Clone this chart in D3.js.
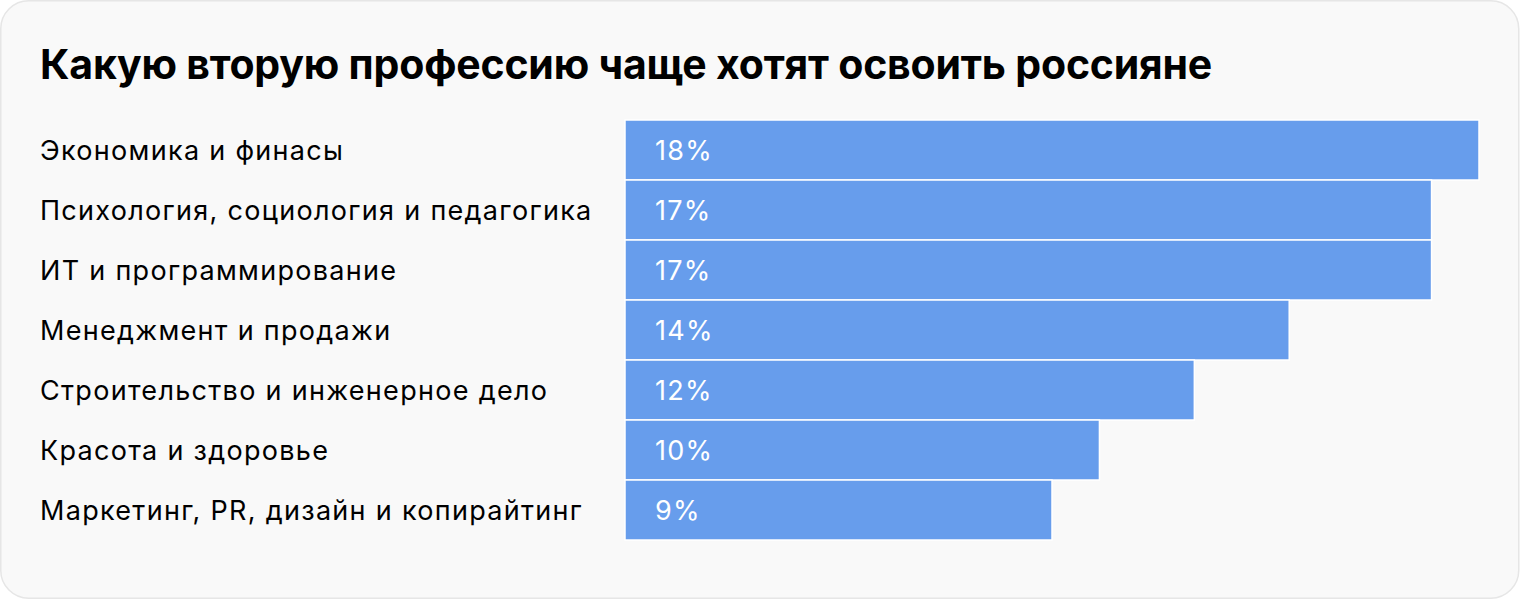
<!DOCTYPE html>
<html><head><meta charset="utf-8">
<script src="https://cdn.jsdelivr.net/npm/d3@7"></script>
<style>
html,body{margin:0;padding:0;background:#fff;}
svg{display:block;}
</style></head>
<body>
<svg id="chart" width="1520" height="600"></svg>
<script>
const title = "Какую вторую профессию чаще хотят освоить россияне";
const categories = [
  "Экономика и финасы",
  "Психология, социология и педагогика",
  "ИТ и программирование",
  "Менеджмент и продажи",
  "Строительство и инженерное дело",
  "Красота и здоровье",
  "Маркетинг, PR, дизайн и копирайтинг"
];
const values = [18, 17, 17, 14, 12, 10, 9];

const svg = d3.select("#chart");
svg.append("rect").attr("x",0.75).attr("y",0.75).attr("width",1518).attr("height",597.5)
  .attr("rx",28).attr("fill","#f9f9f9").attr("stroke","#e6e6e6").attr("stroke-width",1.5);

svg.append("text").attr("x",40).attr("y",79).text(title)
  .attr("font-family","Inter, 'Noto Sans', sans-serif").attr("font-weight",700)
  .attr("font-size",41).attr("letter-spacing",-0.2).attr("fill","#000");

const x = d3.scaleLinear().domain([0,18]).range([625,1479]);
const y = d3.scaleBand().domain(categories).range([120,540]).padding(0);

const g = svg.append("g");
g.selectAll("rect.bar").data(values).join("rect").attr("class","bar")
  .attr("x",x(0)).attr("y",(d,i)=>y(categories[i]))
  .attr("width",d=>x(d)-x(0)).attr("height",y.bandwidth())
  .attr("fill","#679dec").attr("stroke","#ffffff").attr("stroke-width",1.5);

g.selectAll("text.val").data(values).join("text").attr("class","val")
  .attr("x",x(0)+30).attr("y",(d,i)=>y(categories[i])+y.bandwidth()/2)
  .attr("dy","0.36em").text(d=>d+"%")
  .attr("font-family","Inter, 'Noto Sans', sans-serif").attr("font-size",27)
  .attr("letter-spacing",1.3).attr("fill","#fff");

g.selectAll("text.cat").data(categories).join("text").attr("class","cat")
  .attr("x",40).attr("y",d=>y(d)+y.bandwidth()/2)
  .attr("dy","0.36em").text(d=>d)
  .attr("font-family","Inter, 'Noto Sans', sans-serif").attr("font-size",27)
  .attr("letter-spacing",1.3).attr("fill","#000");
</script>
</body></html>
